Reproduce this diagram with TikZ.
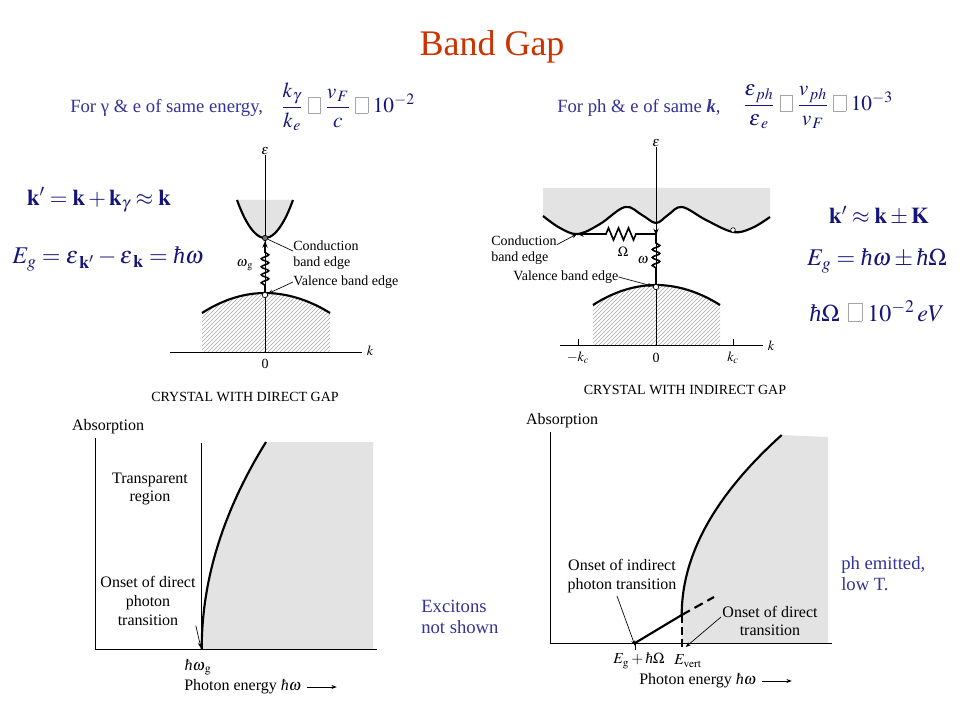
\documentclass[tikz,border=0pt]{standalone}
\usepackage{mathptmx}
\usepackage{fontspec}
\setmainfont{Liberation Serif}
\usetikzlibrary{arrows.meta,decorations.pathmorphing,patterns}
\definecolor{titlec}{HTML}{CC3300}
\definecolor{bluet}{HTML}{333399}
\definecolor{navyf}{HTML}{14147A}
\newcommand{\mbx}{\mathrel{{\color{black!35}\setlength\fboxsep{0pt}\setlength\fboxrule{0.4pt}\fbox{\rule{0pt}{0.72em}\hspace{0.55em}}}}}
\newcommand{\hb}{\mbox{\itshape ħ}}
\tikzset{
  fig/.style={font=\fontsize{10.5}{11.5}\selectfont, inner sep=0pt, align=left},
  figb/.style={font=\fontsize{12}{14}\selectfont, inner sep=0pt, align=center},
  capt/.style={font=\fontsize{10.5}{12}\selectfont, inner sep=0pt},
  axisln/.style={line width=0.7pt},
  curveln/.style={line width=1.6pt},
  stip/.style={fill=black!11},
  hatch/.style={pattern=north east lines, pattern color=black!35},
  lead/.style={line width=0.5pt, -{Stealth[length=4pt,width=3pt]}},
  plain/.style={line width=0.5pt},
  note/.style={font=\fontsize{14}{16}\selectfont, text=bluet, inner sep=0pt, align=left},
  formula/.style={text=navyf, inner sep=0pt},
  opendot/.style={circle, draw, line width=0.5pt, fill=white, inner sep=0pt, minimum size=4pt},
  fulldot/.style={circle, draw, line width=0.5pt, fill=black!55, inner sep=0pt, minimum size=4pt}
}
\begin{document}
\begin{tikzpicture}[x=0.75pt,y=-0.75pt]
\useasboundingbox (0,0) rectangle (960,720);
\fill[white] (0,0) rectangle (960,720);

% ---------- title and top notes ----------
\node[text=titlec, font=\fontsize{27}{30}\selectfont, inner sep=0pt] (title) at (492,47) {Band Gap};
\node[note, anchor=base west] (forg) at (70,113) {For γ \& e of same energy,};
\node[note, anchor=base west] (forph) at (557,113) {For ph \& e of same \textbf{\textit{k}},};
\node[formula, font=\fontsize{16}{18}\selectfont] (fl) at (348,107)
  {$\displaystyle \frac{k_{\mkern1mu\gamma}}{k_{\mkern1mu e}}\mbx\frac{v_{\mkern1mu F}}{c}\mbx 10^{-2}$};
\node[formula, font=\fontsize{16}{18}\selectfont] (fr) at (818,107)
  {$\displaystyle \frac{\varepsilon_{\mkern2mu ph}}{\varepsilon_{\mkern3mu e}}\mbx\frac{v_{\mkern1mu ph}}{v_{\mkern1mu F}}\mbx 10^{-3}$};

% ---------- left formulas ----------
\node[formula, font=\fontsize{17}{20}\selectfont] (kl) at (99,200)
  {$\mathbf{k}'=\mathbf{k}+\mathbf{k}_\gamma\approx\mathbf{k}$};
\node[formula, font=\fontsize{18}{20}\selectfont] (el) at (108,259)
  {$E_g=\varepsilon_{\mkern3mu\mathbf{k}'}-\varepsilon_{\mkern3mu\mathbf{k}}=\hb\omega$};

% ---------- right formulas ----------
\node[formula, font=\fontsize{17}{20}\selectfont] (kr) at (879,216)
  {$\mathbf{k}'\approx\mathbf{k}\pm\mathbf{K}$};
\node[formula, font=\fontsize{18}{20}\selectfont] (er) at (877,261)
  {$E_g=\hb\omega\pm\hb\Omega$};
\node[formula, font=\fontsize{18}{20}\selectfont] (hr) at (877,311)
  {$\hb\Omega\,\mbx 10^{-2}\,eV$};

% ---------- direct gap band diagram ----------
\fill[stip] (237,200) parabola bend (265,238) (293,200) -- cycle;
\fill[hatch] (202,313) parabola bend (265,293) (330,313) -- (330,352) -- (202,352) -- cycle;
\node[fig] (Leps) at (265,151) {$\epsilon$};
\node[fig] (Lk) at (370,351) {$k$};
\node[fig] (Lzero) at (265,364) {0};
\draw[axisln] (Leps.south) -- (265,352);
\draw[axisln] (170,352) -- (362,352);
\draw[curveln] (237,200) parabola bend (265,238) (293,200);
\draw[curveln] (202,313) parabola bend (265,293) (330,313);
\node[fulldot] (Lc) at (265,238) {};
\node[opendot] (Lv) at (265,295) {};
\draw[line width=1.2pt, -{Stealth[length=5pt,width=4pt]}, decorate,
  decoration={snake, amplitude=2.8pt, segment length=6pt, pre length=5pt, post length=7pt}]
  (Lv.north) -- (Lc.south);
\node[fig] (Lw) at (245,265) {$\omega_{\mkern2mu\mathrm{g}}$};
\node[fig, anchor=west] (Lcl) at (293,255) {Conduction\\band edge};
\draw[plain] ([yshift=3pt]Lcl.west) -- (Lc);
\node[fig, anchor=west] (Lvl) at (293,282) {Valence band edge};
\draw[lead] (Lvl.west) -- (Lv);
\node[capt] (Lcap) at (245,397) {CRYSTAL WITH DIRECT GAP};

% ---------- indirect gap band diagram ----------
\fill[stip] (543,188) -- (543,216) -- plot[smooth, tension=0.6] coordinates {(543,216) (560,228) (578,234) (600,224) (625,207) (642,215) (656,223) (668,215) (682,207) (706,220) (733,232) (752,228) (770,217)} -- (770,188) -- cycle;
\fill[hatch] (593,305) parabola bend (656,285) (720,305) -- (720,345) -- (593,345) -- cycle;
\node[fig] (Reps) at (656,143) {$\epsilon$};
\node[fig] (Rk) at (771,346) {$k$};
\node[fig] (Rzero) at (656,358) {0};
\node[fig] (Rmk) at (578,358) {$-k_c$};
\node[fig] (Rpk) at (733,358) {$k_c$};
\draw[axisln] (Reps.south) -- (656,345);
\draw[axisln] (560,345) -- (763,345);
\draw[axisln] (578,339) -- (578,345);
\draw[axisln] (733,339) -- (733,345);
\draw[curveln] plot[smooth, tension=0.6] coordinates {(543,216) (560,228) (578,234) (600,224) (625,207) (642,215) (656,223) (668,215) (682,207) (706,220) (733,232) (752,228) (770,217)};
\draw[curveln] (593,305) parabola bend (656,285) (720,305);
\node[opendot, minimum size=3.5pt] (Rmin) at (733,230) {};
\node[opendot] (Rv) at (656,287) {};
\coordinate (Rc) at (656,234);
\coordinate (Rcm) at (577,234);
\draw[line width=1.2pt, decorate,
  decoration={snake, amplitude=2.8pt, segment length=6pt, pre length=12pt, post length=6pt}]
  (Rv.north) -- (Rc);
\draw[line width=1.2pt, -{Stealth[length=5pt,width=4pt]}] ([yshift=3pt]Rc) -- ([yshift=-1pt]Rc);
\draw[line width=1.2pt, -{Stealth[length=5pt,width=4pt]}, decorate,
  decoration={zigzag, amplitude=4.5pt, segment length=7.5pt, pre length=15pt, post length=21pt}]
  (Rc) -- (Rcm);
\node[fig] (Rw) at (643,260) {$\omega$};
\node[fig] (ROm) at (623,252) {$\Omega$};
\node[fig, anchor=west] (Rcl) at (491,250) {Conduction\\band edge};
\draw[lead] ([yshift=4pt]Rcl.east) -- (Rcm);
\node[fig, anchor=west] (Rvl) at (513,277) {Valence band edge};
\draw[lead] (Rvl.east) -- (Rv);
\node[capt] (Rcap) at (685,390) {CRYSTAL WITH INDIRECT GAP};

% ---------- absorption, direct ----------
\fill[stip] plot[domain=0:1, samples=40] ({201.7+64.3*\x*\x},{649-207*\x}) -- (373,442) -- (373,649) -- cycle;
\draw[axisln] (95,438) -- (95,649) -- (377,649);
\draw[axisln] (201.7,443) -- (201.7,649);
\draw[curveln] plot[domain=0:1, samples=40] ({201.7+64.3*\x*\x},{649-207*\x});
\coordinate (BLg) at (201,648);
\node[figb] (BLabs) at (108,427) {Absorption};
\node[figb] (BLtr) at (150,489) {Transparent\\region};
\node[figb] (BLon) at (148,601) {Onset of direct\\photon\\transition};
\draw[lead] (BLon.south east) -- (BLg);
\node[figb] (BLhw) at (198,667) {$\hb\omega_{\mkern2mu\mathrm{g}}$};
\node[figb, anchor=west] (BLpe) at (184,687) {Photon energy $\hb\omega$};
\draw[lead] ([xshift=4pt]BLpe.east) -- ++(30,0);

% ---------- absorption, indirect ----------
\fill[stip] (681.7,643) -- (681.7,615) -- plot[domain=0:1, samples=40] ({681.7+100*\x*\x},{615-180*\x}) -- (828,437) -- (828,643) -- cycle;
\draw[axisln] (550,432) -- (550,643) -- (832,643);
\coordinate (BRa) at (635,643);
\coordinate (BRk) at (681.7,615);
\coordinate (BRv) at (681.7,643);
\draw[curveln] (BRa) -- (BRk);
\draw[curveln] plot[domain=0:1, samples=40] ({681.7+100*\x*\x},{615-180*\x});
\draw[curveln, dash pattern=on 7pt off 4pt] (BRk) -- (714,597);
\draw[curveln, dash pattern=on 6pt off 3pt] (BRk) -- (681.7,651);
\draw[axisln] (635,643) -- (635,650);
\node[figb] (BRabs) at (562,421) {Absorption};
\node[figb] (BRoi) at (622,576) {Onset of indirect\\photon transition};
\draw[lead] (617,596) -- ([yshift=-2pt]BRa);
\node[figb] (BRod) at (770,621) {Onset of direct\\transition};
\draw[lead] (721,617) -- ([xshift=3pt,yshift=-3pt]BRv);
\node[figb, anchor=east, font=\fontsize{11.5}{13}\selectfont] (BReg) at (665,661) {$E_{\mathrm{g}}+\hb\Omega$};
\node[figb, anchor=west, font=\fontsize{11.5}{13}\selectfont] (BRev) at (674,661) {$E_{\mathrm{vert}}$};
\node[figb, anchor=west] (BRpe) at (639,681) {Photon energy $\hb\omega$};
\draw[lead] ([xshift=4pt]BRpe.east) -- ++(30,0);

% ---------- side notes ----------
\node[note, anchor=north west] (exc) at (421,600) {Excitons\\not shown};
\node[note, anchor=north west] (phe) at (841,556) {ph emitted,\\low T.};
\end{tikzpicture}
\end{document}
